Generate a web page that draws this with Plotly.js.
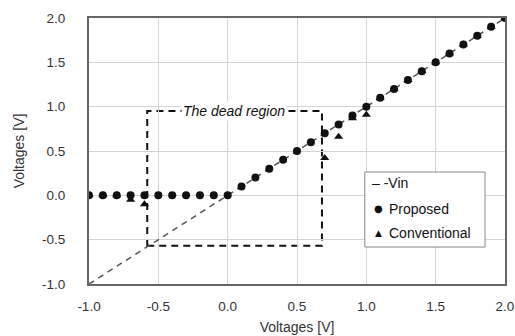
<!DOCTYPE html>
<html>
<head>
<meta charset="utf-8">
<script src="https://cdn.plot.ly/plotly-3.0.1.min.js"></script>
<style>html,body{margin:0;padding:0;background:#fff;}#chart{width:515px;height:336px;}</style>
</head>
<body>
<div id="chart"></div>
<script>
// Data
const vinX = [-1.0, 2.0];
const vinY = [-1.0, 2.0];

const proposedX = [-1.0,-0.9,-0.8,-0.7,-0.6,-0.5,-0.4,-0.3,-0.2,-0.1,0.0,0.1,0.2,0.3,0.4,0.5,0.6,0.7,0.8,0.9,1.0,1.1,1.2,1.3,1.4,1.5,1.6,1.7,1.8,1.9,2.0];
const proposedY = [0,0,0,0,0,0,0,0,0,0,0,0.1,0.2,0.3,0.4,0.5,0.6,0.7,0.8,0.9,1.0,1.1,1.2,1.3,1.4,1.5,1.6,1.7,1.8,1.9,2.0];

const conventionalX = [-1.0,-0.9,-0.8,-0.7,-0.6,0.7,0.8,0.9,1.0,1.1,1.2,1.3,1.4,1.5,1.6,1.7,1.8,1.9,2.0];
const conventionalY = [0,0,0,-0.05,-0.1,0.42,0.66,0.87,0.91,1.1,1.2,1.3,1.4,1.5,1.6,1.7,1.8,1.9,2.0];

const seriesNames = ["Vin", "Proposed", "Conventional"];
const deadRegionX = [-0.58, 0.68];
const deadRegionY = [-0.57, 0.95];
const deadRegionLabel = "The dead region";

const xTicks = [-1.0,-0.5,0.0,0.5,1.0,1.5,2.0];
const yTicks = [-1.0,-0.5,0.0,0.5,1.0,1.5,2.0];
const tickText = ["-1.0","-0.5","0.0","0.5","1.0","1.5","2.0"];
const axisTitle = "Voltages [V]";

const font = "Liberation Sans, Arial, sans-serif";

const traces = [
  {x: vinX, y: vinY, mode: "lines", name: seriesNames[0],
   line: {color: "#555", width: 1.5, dash: "6px,5px"}, showlegend: false},
  {x: proposedX, y: proposedY, mode: "markers", name: seriesNames[1],
   marker: {symbol: "circle", size: 8, color: "#111"}, showlegend: false},
  {x: conventionalX, y: conventionalY, mode: "markers", name: seriesNames[2],
   marker: {symbol: "triangle-up", size: 8, color: "#111"}, showlegend: false}
];

// legend box geometry in paper coords
const L = {x0: 0.663, x1: 0.952, y0: 0.139, y1: 0.421};
const rowY = [0.380, 0.282, 0.192];
const symX = 0.695, textX = 0.716;

const annotations = [
  {x: (deadRegionX[0] + deadRegionX[1]) / 2 - 0.005, y: deadRegionY[1], xref: "x", yref: "y",
   text: "<i>" + deadRegionLabel + "</i>", showarrow: false, bgcolor: "#fff",
   font: {family: font, size: 14, color: "#111"}, borderpad: 1},
  {x: 0.675, y: rowY[0], xref: "paper", yref: "paper", xanchor: "left", yanchor: "middle",
   text: "– -" + seriesNames[0], showarrow: false, font: {family: font, size: 14, color: "#111"}},
  {x: symX, y: rowY[1], xref: "paper", yref: "paper", xanchor: "center", yanchor: "middle",
   text: "●", showarrow: false, font: {family: "DejaVu Sans", size: 10, color: "#111"}},
  {x: textX, y: rowY[1], xref: "paper", yref: "paper", xanchor: "left", yanchor: "middle",
   text: seriesNames[1], showarrow: false, font: {family: font, size: 14, color: "#111"}},
  {x: symX, y: rowY[2], xref: "paper", yref: "paper", xanchor: "center", yanchor: "middle",
   text: "▲", showarrow: false, font: {family: "DejaVu Sans", size: 9, color: "#111"}},
  {x: textX, y: rowY[2], xref: "paper", yref: "paper", xanchor: "left", yanchor: "middle",
   text: seriesNames[2], showarrow: false, font: {family: font, size: 14, color: "#111"}}
];

const shapes = [
  {type: "rect", xref: "x", yref: "y", x0: deadRegionX[0], x1: deadRegionX[1],
   y0: deadRegionY[0], y1: deadRegionY[1], line: {color: "#111", width: 2, dash: "7px,5px"},
   fillcolor: "rgba(0,0,0,0)", layer: "below"},
  {type: "rect", xref: "paper", yref: "paper", x0: L.x0, x1: L.x1, y0: L.y0, y1: L.y1,
   line: {color: "#888", width: 1}, fillcolor: "#fff", layer: "above"}
];

const axisCommon = {
  showline: true, mirror: true, linecolor: "#666", linewidth: 2,
  showgrid: true, gridcolor: "#d4d4d4", gridwidth: 1, zeroline: false,
  ticks: "", tickfont: {family: font, size: 13.5, color: "#333"},
  tickmode: "array", ticktext: tickText
};

const layout = {
  width: 515, height: 336,
  margin: {l: 89, r: 10, t: 18, b: 52},
  paper_bgcolor: "#fff", plot_bgcolor: "#fff",
  showlegend: false,
  xaxis: Object.assign({}, axisCommon, {range: [-1, 2], tickvals: xTicks,
    ticklabelstandoff: 9,
    title: {text: axisTitle, font: {family: font, size: 14, color: "#333"}, standoff: 9}}),
  yaxis: Object.assign({}, axisCommon, {range: [-1, 2], tickvals: yTicks,
    ticklabelstandoff: 19,
    title: {text: axisTitle, font: {family: font, size: 14, color: "#333"}, standoff: 14}}),
  annotations: annotations,
  shapes: shapes
};

Plotly.newPlot("chart", traces, layout, {displayModeBar: false, staticPlot: true});
</script>
</body>
</html>
